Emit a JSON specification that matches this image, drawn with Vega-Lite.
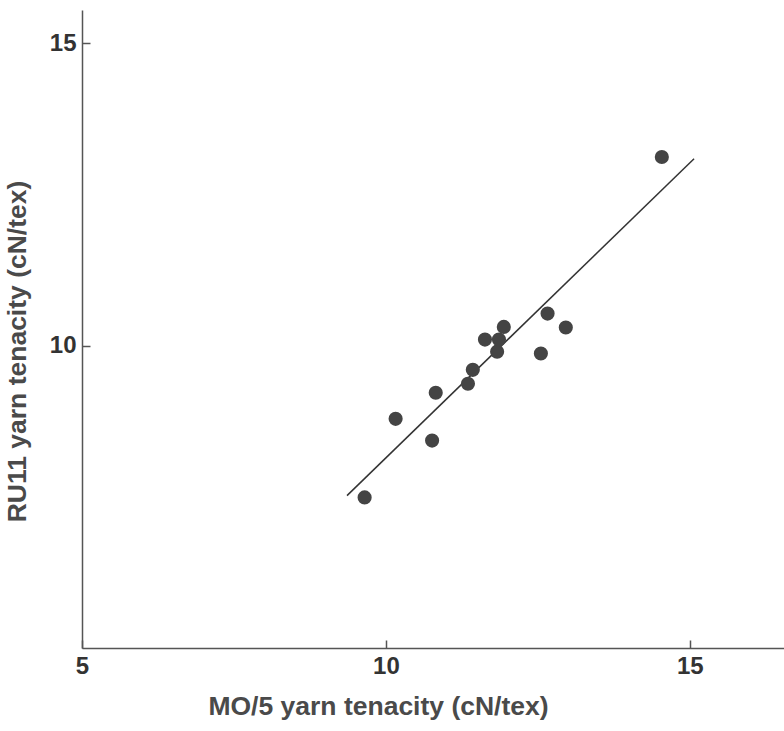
{
  "$schema": "https://vega.github.io/schema/vega-lite/v6.json",
  "width": 702,
  "height": 638,
  "autosize": "none",
  "padding": {"left": 82, "top": 10, "right": 0, "bottom": 83},
  "background": "white",
  "config": {
    "view": {"stroke": null},
    "axis": {
      "grid": false,
      "labelFont": "Liberation Sans",
      "labelFontWeight": "bold",
      "labelFontSize": 24,
      "labelColor": "#333333",
      "labelFlush": false,
      "titleFont": "Liberation Sans",
      "titleFontWeight": "bold",
      "titleFontSize": 26.5,
      "titleColor": "#4a4a4a",
      "domainColor": "#555555",
      "domainWidth": 1.5,
      "tickColor": "#555555",
      "tickWidth": 1.5,
      "tickSize": -8
    }
  },
  "datasets": {
    "points": [
      {"mo5": 9.65, "ru11": 7.49},
      {"mo5": 10.16, "ru11": 8.79},
      {"mo5": 10.76, "ru11": 8.43},
      {"mo5": 10.82, "ru11": 9.22},
      {"mo5": 11.35, "ru11": 9.37},
      {"mo5": 11.43, "ru11": 9.60},
      {"mo5": 11.63, "ru11": 10.10},
      {"mo5": 11.83, "ru11": 9.90},
      {"mo5": 11.86, "ru11": 10.10},
      {"mo5": 11.94, "ru11": 10.31},
      {"mo5": 12.55, "ru11": 9.87},
      {"mo5": 12.66, "ru11": 10.53},
      {"mo5": 12.96, "ru11": 10.30},
      {"mo5": 14.54, "ru11": 13.12}
    ],
    "fit": [
      {"mo5": 9.36, "ru11": 7.52},
      {"mo5": 15.07, "ru11": 13.09}
    ]
  },
  "layer": [
    {
      "data": {"name": "fit"},
      "mark": {"type": "line", "color": "#333333", "strokeWidth": 1.5},
      "encoding": {
        "x": {"field": "mo5", "type": "quantitative", "scale": {"domain": [5, 16.55], "nice": false, "zero": false},
          "axis": {"title": "MO/5 yarn tenacity (cN/tex)", "values": [5, 10, 15], "format": "d", "labelPadding": 14, "titlePadding": 15, "titleX": 296, "titleAlign": "center"}},
        "y": {"field": "ru11", "type": "quantitative", "scale": {"domain": [5, 15.55], "nice": false, "zero": false},
          "axis": {"title": "RU11 yarn tenacity (cN/tex)", "values": [10, 15], "format": "d", "labelPadding": 14, "titlePadding": 18, "titleY": 341, "titleAlign": "center"}}
      }
    },
    {
      "data": {"name": "points"},
      "mark": {"type": "circle", "color": "#444444", "opacity": 1, "size": 200},
      "encoding": {
        "x": {"field": "mo5", "type": "quantitative"},
        "y": {"field": "ru11", "type": "quantitative"}
      }
    }
  ]
}
